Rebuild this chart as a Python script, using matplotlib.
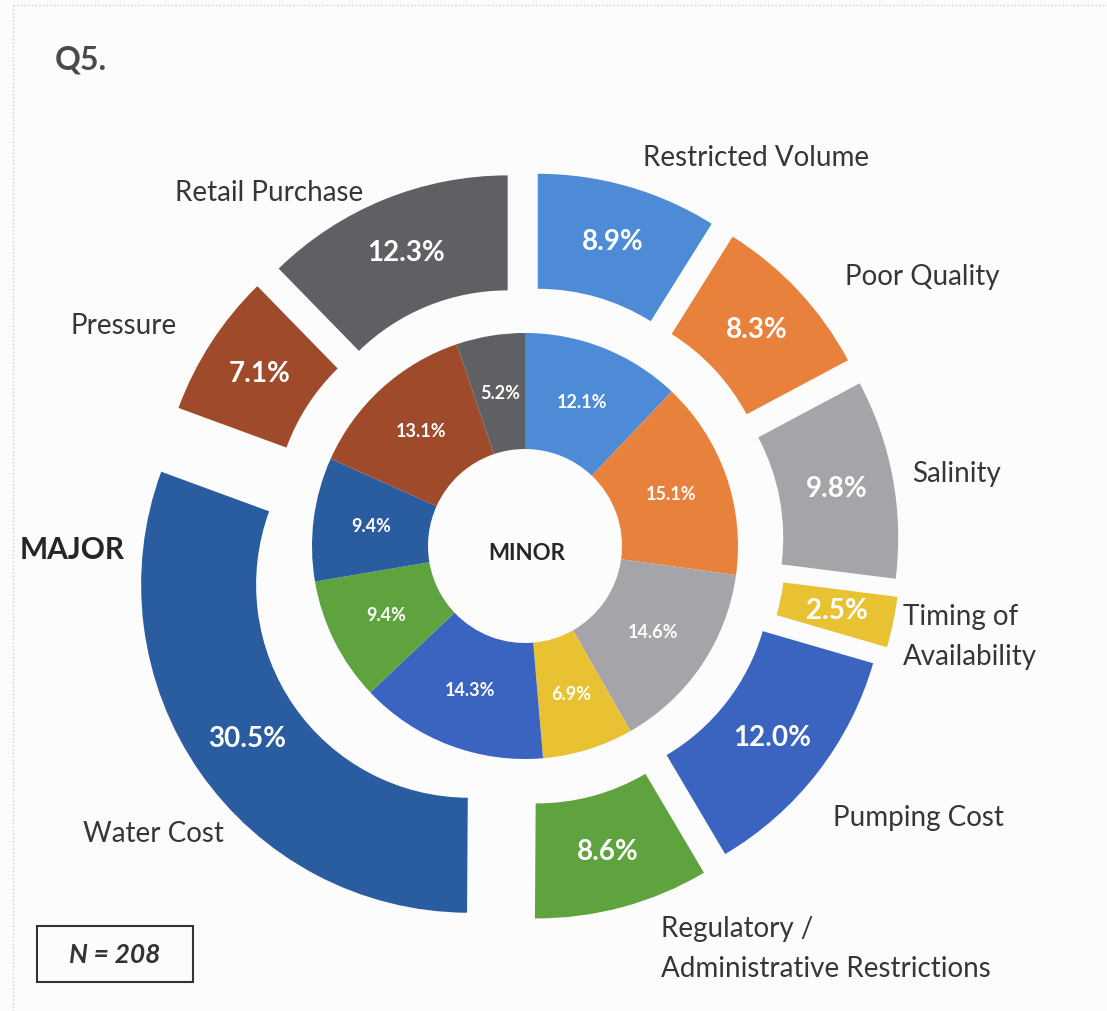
import matplotlib
matplotlib.use("Agg")
import matplotlib.pyplot as plt
from matplotlib.patches import Rectangle

# Q5 survey answers: outer ring = MAJOR, inner ring = MINOR
categories = ['Restricted Volume', 'Poor Quality', 'Salinity', 'Timing of\nAvailability',
              'Pumping Cost', 'Regulatory /\nAdministrative Restrictions', 'Water Cost',
              'Pressure', 'Retail Purchase']
major = [8.9, 8.3, 9.8, 2.5, 12.0, 8.6, 30.5, 7.1, 12.3]
minor = [12.1, 15.1, 14.6, 6.9, 14.3, 9.4, 9.4, 13.1, 5.2]
n_responses = 208

colors = ['#4d8bd6', '#e8813b', '#a5a5a9', '#e9c234', '#3b63c0',
          '#5fa33f', '#2a5da0', '#9f4a2b', '#5f6063']

# layout (figure pixels)
W, H = 1107, 1011
cx, cy = 525, 546
r_out, r_mid, r_hole = 328, 213, 97
explode = [46, 46, 46, 48, 42, 46, 68, 46, 46]

# label anchor (x, y, ha) in image pixels
label_pos = [(643, 158, 'left'), (845, 277, 'left'), (912, 474, 'left'),
             (903, 637, 'left'), (833, 818, 'left'), (661, 949, 'left'),
             (224, 834, 'right'), (177, 326, 'right'), (363, 193, 'right')]

plt.rcParams['font.family'] = ['Lato', 'DejaVu Sans']

fig = plt.figure(figsize=(W / 100, H / 100), dpi=100)
fig.patch.set_facecolor('#fdfcfd')
ax = fig.add_axes([0, 0, 1, 1])


def px(x, y):
    return x - cx, cy - y


ax.pie(major, explode=explode, radius=r_out, colors=colors,
       autopct='%1.1f%%', pctdistance=(r_out + r_mid) / 2 / r_out,
       startangle=90, counterclock=False,
       wedgeprops=dict(width=r_out - r_mid, linewidth=0),
       textprops=dict(color='white', fontsize=20, fontweight='bold'))

ax.pie(minor, radius=r_mid, colors=colors,
       autopct='%1.1f%%', pctdistance=(r_mid + r_hole) / 2 / r_mid,
       startangle=90, counterclock=False,
       wedgeprops=dict(width=r_mid - r_hole, linewidth=0),
       textprops=dict(color='white', fontsize=13, fontweight='bold'))

for name, (x, y, ha) in zip(categories, label_pos):
    ax.text(*px(x, y), name, ha=ha, va='center', fontsize=20,
            color='#363636', linespacing=1.65)

ax.text(*px(527, 553), 'MINOR', ha='center', va='center', fontsize=16,
        fontweight='bold', color='#262626')
ax.text(*px(20, 550), 'MAJOR', ha='left', va='center', fontsize=21.5,
        fontweight='bold', color='#262626')
ax.text(*px(55, 60), 'Q5.', ha='left', va='center', fontsize=23,
        fontweight='bold', color='#4a4a4a')

bx, by = px(37, 982)
ax.add_patch(Rectangle((bx, by), 156, 56, fill=False, edgecolor='#333333', linewidth=1.5))
ax.text(*px(115, 955), f'N = {n_responses}', ha='center', va='center', fontsize=19,
        fontweight='bold', fontstyle='italic', color='#333333')

# faint dotted page border from the scan
ax.plot([px(13, 5)[0], px(1107, 5)[0]], [px(13, 5)[1]] * 2, ls=':', lw=1, color='#cfcfcf')
ax.plot([px(13, 5)[0]] * 2, [px(13, 5)[1], px(13, 1011)[1]], ls=':', lw=1, color='#cfcfcf')

ax.set_xlim(-cx, W - cx)
ax.set_ylim(-(H - cy), cy)
ax.set_aspect('auto')
ax.axis('off')

fig.savefig('out.png', dpi=100, facecolor=fig.get_facecolor())
